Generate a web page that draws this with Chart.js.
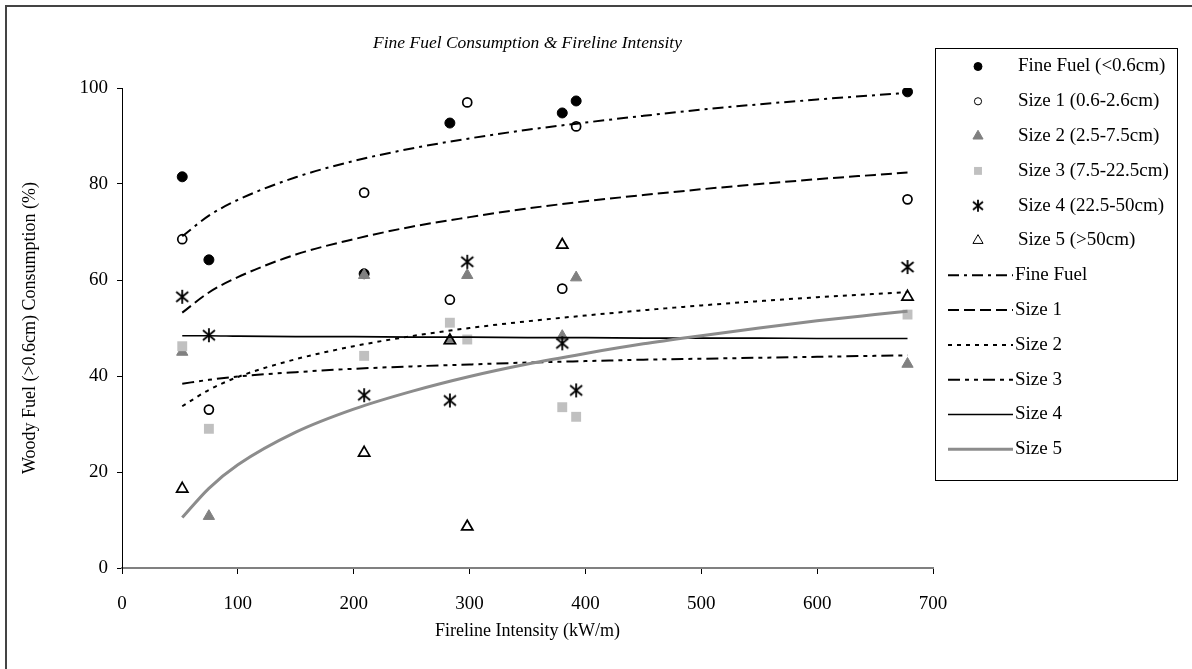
<!DOCTYPE html>
<html><head><meta charset="utf-8">
<script src="https://cdn.jsdelivr.net/npm/chart.js@4/dist/chart.umd.min.js"></script>
<style>
html,body{margin:0;padding:0;background:#fff;overflow:hidden;}
#wrap{position:relative;width:1192px;height:669px;overflow:hidden;}
#frame{position:absolute;left:5px;top:5px;width:1300px;height:800px;border:2px solid #444;box-sizing:border-box;}
canvas{position:absolute;left:0;top:0;}
</style></head><body>
<div id="wrap"><div id="frame"></div><canvas id="c" width="1192" height="669"></canvas></div>
<script>
// ---- data ----
const chartTitle = 'Fine Fuel Consumption & Fireline Intensity';
const xTitle = 'Fireline Intensity (kW/m)';
const yTitle = 'Woody Fuel (>0.6cm) Consumption (%)';

const intensity = [52, 75, 209, 283, 298, 380, 392, 678];
const fineFuel  = [81.5, 64.2, 61.3, 92.7, null, 94.8, 97.3, 99.2];
const size1     = [68.5, 33.0, 78.2, 55.9, 97.0, 58.2, 92.0, 76.8];
const size2     = [45.0, 10.8, 61.0, 47.4, 61.0, 48.3, 60.5, 42.5];
const size3     = [46.2, 29.0, 44.2, 51.1, 47.6, 33.5, 31.5, 52.8];
const size4     = [56.5, 48.5, 36.0, 34.9, 63.8, 46.8, 37.0, 62.7];
const size5     = [16.5, null, 24.0, 47.4, 8.6, 67.3, null, 56.5];

const trendX     = [52, 75, 100, 150, 200, 250, 300, 350, 400, 450, 500, 550, 600, 650, 678];
const trendFine  = [69.1, 73.4, 76.7, 81.4, 84.8, 87.4, 89.5, 91.3, 92.8, 94.2, 95.5, 96.6, 97.6, 98.5, 99.0];
const trendSize1 = [53.2, 57.4, 60.6, 65.3, 68.5, 71.1, 73.1, 74.9, 76.4, 77.7, 78.9, 80.0, 81.0, 81.9, 82.4];
const trendSize2 = [33.7, 37.1, 39.8, 43.5, 46.2, 48.3, 50.0, 51.4, 52.6, 53.7, 54.7, 55.6, 56.4, 57.1, 57.5];
const trendSize3 = [38.4, 39.2, 39.9, 40.8, 41.5, 42.0, 42.4, 42.8, 43.1, 43.4, 43.6, 43.8, 44.0, 44.2, 44.3];
const trendSize4 = [48.4, 48.4, 48.3, 48.2, 48.2, 48.1, 48.1, 48.0, 48.0, 47.9, 47.9, 47.9, 47.8, 47.8, 47.8];
const trendSize5 = [10.5, 16.6, 21.5, 28.3, 33.1, 36.8, 39.9, 42.5, 44.7, 46.7, 48.4, 50.0, 51.5, 52.8, 53.5];

const xTicks = [0, 100, 200, 300, 400, 500, 600, 700];
const yTicks = [0, 20, 40, 60, 80, 100];

// ---- helpers ----
function pts(xs, ys){ const o=[]; xs.forEach((x,i)=>{ if(ys[i]!==null) o.push({x:x,y:ys[i]}); }); return o; }
function asterisk(s, lw){
  const c=document.createElement('canvas'); c.width=s; c.height=s;
  const g=c.getContext('2d'); g.strokeStyle='#000'; g.lineWidth=lw;
  const m=2, h=s/2;
  g.beginPath();
  g.moveTo(m,m+1); g.lineTo(s-m,s-m-1);
  g.moveTo(s-m,m+1); g.lineTo(m,s-m-1);
  g.moveTo(h,m-1); g.lineTo(h,s-m+1);
  g.stroke(); return c;
}
const star = asterisk(16, 1.8), starSmall = asterisk(14, 1.8);

const FONT = '"Liberation Serif", "Times New Roman", serif';

const markerSets = [
  {label:'Fine Fuel (<0.6cm)', data:pts(intensity,fineFuel), pointStyle:'circle', pointRadius:5, backgroundColor:'#000', borderColor:'#000', borderWidth:1, order:16},
  {label:'Size 1 (0.6-2.6cm)', data:pts(intensity,size1), pointStyle:'circle', pointRadius:4.5, backgroundColor:'rgba(0,0,0,0)', borderColor:'#000', borderWidth:1.7, order:15},
  {label:'Size 2 (2.5-7.5cm)', data:pts(intensity,size2), pointStyle:'triangle', pointRadius:6.5, backgroundColor:'#808080', borderColor:'#808080', borderWidth:1, order:14},
  {label:'Size 3 (7.5-22.5cm)', data:pts(intensity,size3), pointStyle:'rect', pointRadius:7, backgroundColor:'#c0c0c0', borderColor:'#c0c0c0', borderWidth:0, order:13},
  {label:'Size 4 (22.5-50cm)', data:pts(intensity,size4), pointStyle:star, legendStyle:starSmall, pointRadius:8, backgroundColor:'#000', borderColor:'#000', borderWidth:0, order:12},
  {label:'Size 5 (>50cm)', data:pts(intensity,size5), pointStyle:'triangle', pointRadius:6.5, backgroundColor:'rgba(0,0,0,0)', borderColor:'#000', borderWidth:1.7, order:11}
];
markerSets.forEach(d=>{ d.showLine=false; d.pointHoverRadius=d.pointRadius; });

const lineSets = [
  {label:'Fine Fuel', data:pts(trendX,trendFine),  borderColor:'#000', borderWidth:2, borderDash:[11,5,3,5]},
  {label:'Size 1',    data:pts(trendX,trendSize1), borderColor:'#000', borderWidth:2, borderDash:[11,5]},
  {label:'Size 2',    data:pts(trendX,trendSize2), borderColor:'#000', borderWidth:2, borderDash:[4,5]},
  {label:'Size 3',    data:pts(trendX,trendSize3), borderColor:'#000', borderWidth:2, borderDash:[12,5,4,5,4,5]},
  {label:'Size 4',    data:pts(trendX,trendSize4), borderColor:'#000', borderWidth:1.6, borderDash:[]},
  {label:'Size 5',    data:pts(trendX,trendSize5), borderColor:'#8c8c8c', borderWidth:3, borderDash:[]}
];
lineSets.forEach((d,i)=>{ d.showLine=true; d.pointRadius=0; d.pointHoverRadius=0; d.fill=false; d.tension=0.4; d.cubicInterpolationMode='monotone'; d.order=5-i; d.backgroundColor=d.borderColor; });

const deco = {
  id:'deco',
  afterDraw(chart){
    const ctx=chart.ctx; ctx.save();
    // title
    ctx.fillStyle='#000'; ctx.font='italic 17.5px '+FONT; ctx.textAlign='center'; ctx.textBaseline='middle';
    ctx.fillText(chartTitle, (chart.chartArea.left+chart.chartArea.right)/2, 43);
    // legend box
    const L=935, T=48, R=1177, B=480;
    ctx.strokeStyle='#000'; ctx.lineWidth=1; ctx.strokeRect(L+0.5,T+0.5,R-L,B-T);
    ctx.font='19px '+FONT; ctx.textAlign='left';
    const all = markerSets.concat(lineSets);
    all.forEach((d,i)=>{
      const y = 66.5 + 34.8*i;
      if(i<markerSets.length){
        ctx.fillStyle=d.backgroundColor; ctx.strokeStyle=d.borderColor;
        const sc = (d.pointStyle==='triangle') ? 0.9 : 0.8;
        Chart.helpers.drawPoint(ctx,{pointStyle:d.legendStyle||d.pointStyle, radius:d.pointRadius*sc, rotation:0, borderWidth:d.borderWidth}, 978, y);
        ctx.fillStyle='#000'; ctx.fillText(d.label, 1018, y);
      } else {
        ctx.save(); ctx.strokeStyle=d.borderColor; ctx.lineWidth=d.borderWidth; ctx.setLineDash(d.borderDash);
        ctx.beginPath(); ctx.moveTo(948,y); ctx.lineTo(1013,y); ctx.stroke(); ctx.restore();
        ctx.fillStyle='#000'; ctx.fillText(d.label, 1015, y);
      }
    });
    ctx.restore();
  }
};

new Chart(document.getElementById('c'), {
  type:'scatter',
  data:{datasets: markerSets.concat(lineSets)},
  options:{
    responsive:false, animation:false, devicePixelRatio:1,
    layout:{padding:{left:0, top:88, right:259, bottom:0}},
    plugins:{legend:{display:false}, tooltip:{enabled:false}, title:{display:false}},
    scales:{
      x:{type:'linear', min:0, max:700,
        afterBuildTicks(s){ s.ticks = xTicks.map(v=>({value:v})); },
        afterFit(s){ s.height = 101; },
        grid:{display:true, drawOnChartArea:false, drawTicks:true, tickLength:6, color:'#000', lineWidth:1},
        border:{display:true, color:'#808080', width:2},
        ticks:{color:'#000', font:{family:FONT, size:19}, padding:19, maxRotation:0},
        title:{display:true, text:xTitle, color:'#000', font:{family:FONT, size:18}, padding:{top:0,bottom:27}}
      },
      y:{type:'linear', min:0, max:100,
        afterBuildTicks(s){ s.ticks = yTicks.map(v=>({value:v})); },
        afterFit(s){ s.width = 122; },
        grid:{display:true, drawOnChartArea:false, drawTicks:true, tickLength:5, color:'#000', lineWidth:1},
        border:{display:true, color:'#000', width:1},
        ticks:{color:'#000', font:{family:FONT, size:19}, padding:9},
        title:{display:true, text:yTitle, color:'#000', font:{family:FONT, size:18}, padding:{top:19,bottom:0}}
      }
    }
  },
  plugins:[deco]
});
</script>
</body></html>
